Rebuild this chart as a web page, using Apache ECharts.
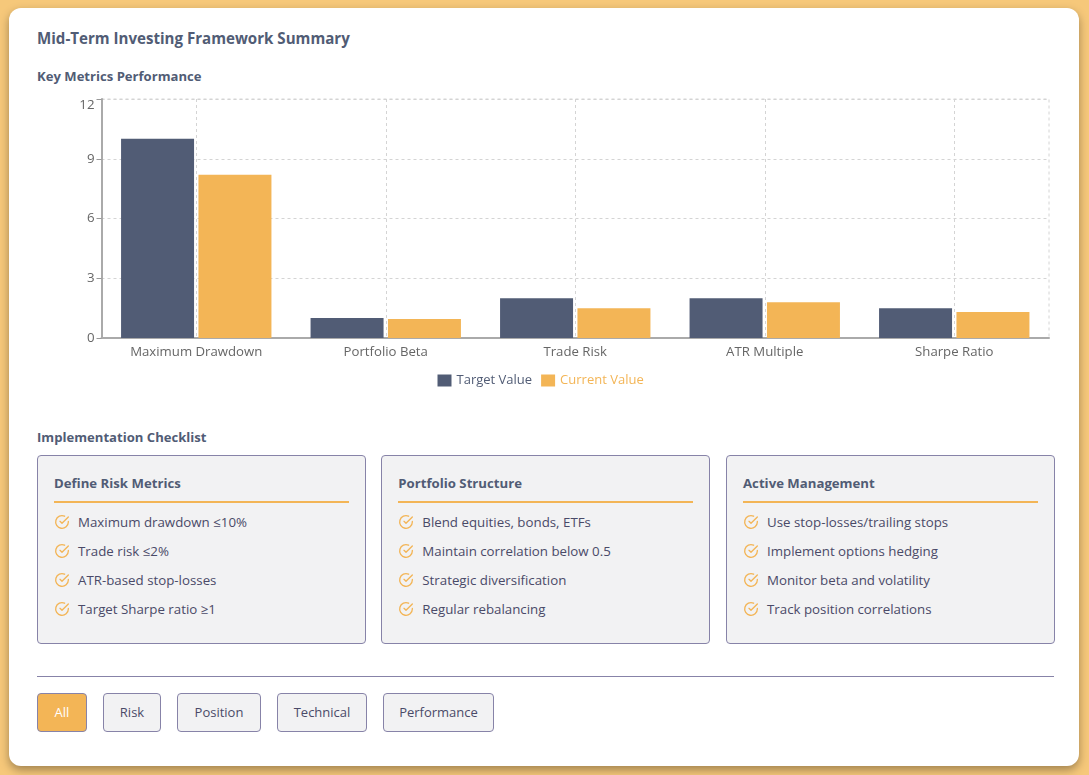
<!DOCTYPE html>
<html>
<head>
<meta charset="utf-8">
<title>Mid-Term Investing Framework Summary</title>
<script src="https://cdn.jsdelivr.net/npm/echarts@6/dist/echarts.min.js"></script>
<style>
html,body{margin:0;padding:0;width:1089px;height:775px;overflow:hidden;background:#f6c87a;font-family:"Open Sans",sans-serif;}
.card{position:absolute;left:9px;top:8px;width:1070px;height:758px;background:#fff;border-radius:12px;box-shadow:0 4px 10px rgba(0,0,0,.35);}
.abs{position:absolute;white-space:nowrap;}
h1,h2,h3{margin:0;color:#515c75;font-weight:700;}
h1{left:28px;top:19px;font-size:15.1px;line-height:22px;}
h2{font-size:13.1px;line-height:18px;}
#main{position:absolute;left:28px;top:82px;width:1017px;height:310px;}
.box{position:absolute;top:447px;width:328.5px;height:189px;box-sizing:border-box;background:#f2f2f3;border:1px solid #8783a8;border-radius:4px;}
.box h3{position:absolute;left:16px;top:17px;font-size:13.2px;line-height:20px;}
.box .rule{position:absolute;left:16px;right:16px;top:45px;height:2px;background:#f3b556;}
.box ul{position:absolute;left:16px;top:52px;margin:0;padding:0;list-style:none;}
.box li{height:29px;line-height:29px;font-size:13.3px;color:#4a4a68;white-space:nowrap;position:relative;padding-left:24px;}
.box li svg{position:absolute;left:0;top:6px;}
.sep{position:absolute;left:28px;top:668px;width:1017px;height:1px;background:#8783a8;}
.btns{position:absolute;left:28px;top:685px;display:flex;gap:16px;}
.btns span{display:block;box-sizing:border-box;height:39px;line-height:37px;text-align:center;font-size:13px;color:#4a4a68;background:#f2f2f3;border:1px solid #8783a8;border-radius:4px;}
.btns span:nth-child(1){width:50px;}
.btns span:nth-child(2){width:58px;}
.btns span:nth-child(3){width:84px;}
.btns span:nth-child(4){width:90px;}
.btns span:nth-child(5){width:111px;}
.btns span.on{background:#f3b556;color:#fff;}
</style>
</head>
<body>
<div class="card">
  <h1 class="abs">Mid-Term Investing Framework Summary</h1>
  <h2 class="abs" style="left:28px;top:59px;">Key Metrics Performance</h2>
  <div id="main"></div>
  <h2 class="abs" style="left:28px;top:420px;">Implementation Checklist</h2>
  <div id="boxes"></div>
  <div class="sep"></div>
  <div class="btns" id="btns"></div>
</div>
<script>
// chart values
var categories = ["Maximum Drawdown","Portfolio Beta","Trade Risk","ATR Multiple","Sharpe Ratio"];
var targetValues = [10,1,2,2,1.5];
var currentValues = [8.2,0.95,1.5,1.8,1.3];
var seriesNames = ["Target Value","Current Value"];

// checklist and filter texts
var boxTitles = ["Define Risk Metrics","Portfolio Structure","Active Management"];
var boxItems = [
    ["Maximum drawdown ≤10%","Trade risk ≤2%","ATR-based stop-losses","Target Sharpe ratio ≥1"],
    ["Blend equities, bonds, ETFs","Maintain correlation below 0.5","Strategic diversification","Regular rebalancing"],
    ["Use stop-losses/trailing stops","Implement options hedging","Monitor beta and volatility","Track position correlations"]
];
var filters = ["All","Risk","Position","Technical","Performance"];
var boxLefts = [28,372.3,717];

var checkIcon = '<svg width="16" height="16" viewBox="0 0 24 24" fill="none" stroke="#f3b556" stroke-width="2" stroke-linecap="round" stroke-linejoin="round">'
    +'<path d="M21.5 11.1V12a9.5 9.5 0 1 1-5.6-8.7"/><path d="M21.5 4.5 12 14l-3-3"/></svg>';

var htmlStr = "";
boxTitles.forEach(function (title,index) {
    htmlStr += '<div class="box" style="left:'+boxLefts[index]+'px"><h3>'+title+'</h3><div class="rule"></div><ul>';
    boxItems[index].forEach(function (item) {
        htmlStr += '<li>'+checkIcon+item+'</li>';
    });
    htmlStr += '</ul></div>';
});
document.getElementById("boxes").innerHTML = htmlStr;

htmlStr = "";
filters.forEach(function (name,index) {
    htmlStr += '<span'+(index==0?' class="on"':'')+'>'+name+'</span>';
});
document.getElementById("btns").innerHTML = htmlStr;

var myChart = echarts.init(document.getElementById("main"));
var font = '"Open Sans",sans-serif';
var gridLine = {color: "#d4d4d4", type: [3,3]};
myChart.setOption({
    animation: false,
    color: ["#515c75","#f3b556"],
    textStyle: {fontFamily: font},
    legend: {
        top: 279,
        left: 395.5,
        itemWidth: 14,
        itemHeight: 12,
        itemGap: 9,
        icon: "rect",
        textStyle: {fontSize: 13, fontFamily: font},
        data: [
            {name: seriesNames[0], textStyle: {color: "#515c75"}},
            {name: seriesNames[1], textStyle: {color: "#f3b556"}}
        ]
    },
    grid: {left: 64.5, right: 5, top: 9, height: 239, show: true, borderColor: "#d4d4d4", borderType: [3,3], borderWidth: 1},
    xAxis: {
        type: "category",
        data: categories,
        axisTick: {alignWithLabel: true, lineStyle: {color: "#777"}},
        axisLine: {lineStyle: {color: "#aaa", width: 2}},
        axisLabel: {color: "#666", fontSize: 13.2, margin: 8},
        splitLine: {show: true, alignWithLabel: true, lineStyle: gridLine}
    },
    yAxis: {
        type: "value",
        min: 0,
        max: 12,
        interval: 3,
        axisLine: {show: true, lineStyle: {color: "#aaa", width: 2}},
        axisTick: {show: true, lineStyle: {color: "#999"}},
        axisLabel: {color: "#666", fontSize: 13.3, margin: 7, verticalAlignMaxLabel: "top"},
        splitLine: {show: true, lineStyle: gridLine}
    },
    series: [
        {name: seriesNames[0], type: "bar", data: targetValues, barGap: "6%", barWidth: 73, itemStyle: {color: "#515c75"}},
        {name: seriesNames[1], type: "bar", data: currentValues, barGap: "6%", barWidth: 73, itemStyle: {color: "#f3b556"}}
    ]
});
</script>
</body>
</html>
